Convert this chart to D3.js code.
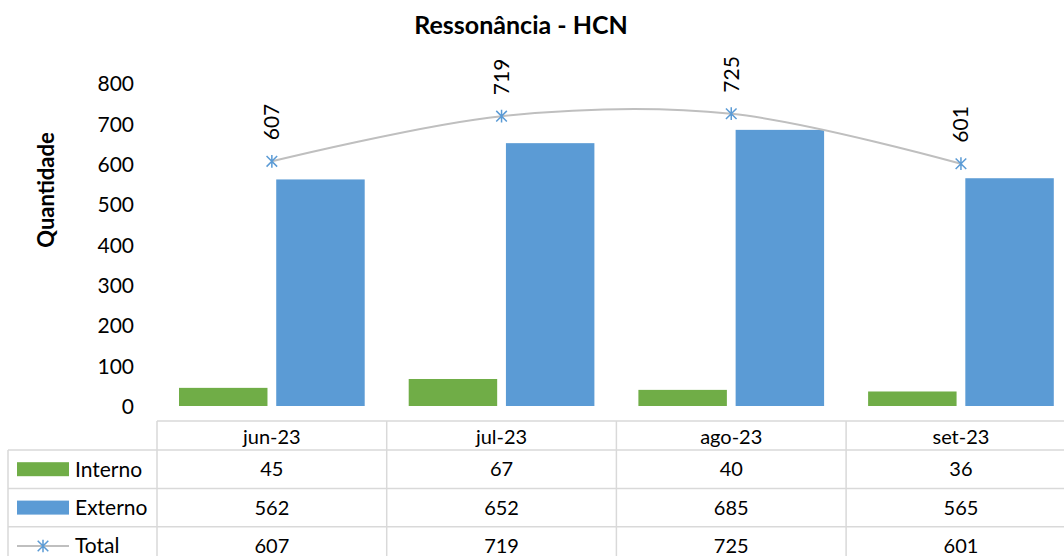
<!DOCTYPE html>
<html><head><meta charset="utf-8">
<script src="https://cdn.jsdelivr.net/npm/d3@7"></script>
<style>
html,body{margin:0;padding:0;background:#fff;overflow:hidden}
svg{display:block;font-family:Lato, "Open Sans", sans-serif}
</style></head>
<body>
<svg id="chart" width="1064" height="556"></svg>
<script>
const categories = ["jun-23", "jul-23", "ago-23", "set-23"];
const seriesNames = ["Interno", "Externo"];
const interno = [45, 67, 40, 36];
const externo = [562, 652, 685, 565];
const total = [607, 719, 725, 601];
const yTicks = [0, 100, 200, 300, 400, 500, 600, 700, 800];
const title = "Ressonância - HCN";
const yTitle = "Quantidade";

const colors = {Interno: "#70ad47", Externo: "#5b9bd5", Total: "#5b9bd5", line: "#bfbfbf", grid: "#d9d9d9"};
const svg = d3.select("#chart");

const plotLeft = 157, catW = 229.7;
const x0 = d3.scaleBand().domain(categories).range([plotLeft, plotLeft + catW * categories.length]).padding(0);
const x1 = d3.scaleBand().domain(seriesNames).range([22, x0.bandwidth() - 22]).paddingInner(0.09).paddingOuter(0);
const y = d3.scaleLinear().domain([0, 800]).range([406, 83.5]);

// title
svg.append("text").attr("x", 521).attr("y", 34).attr("text-anchor", "middle")
  .attr("font-size", 25).attr("font-weight", "bold").attr("fill", "#000").text(title);

// y axis title
svg.append("text").attr("transform", "translate(54,190) rotate(-90)").attr("text-anchor", "middle")
  .attr("font-size", 22).attr("font-weight", "bold").attr("fill", "#000").text(yTitle);

// y axis
const yAxis = d3.axisLeft(y).tickValues(yTicks).tickSize(0).tickPadding(0);
const gy = svg.append("g").attr("transform", "translate(134,0)").call(yAxis);
gy.select(".domain").remove();
gy.selectAll("text").attr("font-size", 21).attr("font-family", "Lato, 'Open Sans', sans-serif").attr("fill", "#000").attr("dy", "0.35em");

// bars
const rows = categories.map((c, i) => ({cat: c, Interno: interno[i], Externo: externo[i]}));
const groups = svg.append("g").selectAll("g").data(rows).join("g")
  .attr("transform", d => `translate(${x0(d.cat)},0)`);
groups.selectAll("rect").data(d => seriesNames.map(s => ({s, v: d[s]}))).join("rect")
  .attr("x", d => x1(d.s)).attr("width", x1.bandwidth())
  .attr("y", d => y(d.v)).attr("height", d => y(0) - y(d.v))
  .attr("fill", d => colors[d.s]);

// total line
const cx = c => x0(c) + x0.bandwidth() / 2;
const pts = categories.map((c, i) => [cx(c), y(total[i])]);
svg.append("path").attr("d", d3.line().curve(d3.curveCatmullRom.alpha(0.5))(pts))
  .attr("fill", "none").attr("stroke", colors.line).attr("stroke-width", 2);

function star(g, x, yy, r) {
  const p = `M${x - r},${yy - r}L${x + r},${yy + r}M${x - r},${yy + r}L${x + r},${yy - r}M${x},${yy - r * 1.2}L${x},${yy + r * 1.2}`;
  g.append("path").attr("d", p).attr("stroke", colors.Total).attr("stroke-width", 1.5).attr("fill", "none");
}
const mk = svg.append("g");
pts.forEach(p => star(mk, p[0], p[1], 5.3));

// data labels
svg.append("g").selectAll("text").data(categories).join("text")
  .attr("transform", (c, i) => `translate(${cx(c)},${y(total[i]) - 21}) rotate(-90)`)
  .attr("dy", "0.35em").attr("font-size", 21).attr("fill", "#000")
  .text((c, i) => total[i]);

// data table
const tableTop = 421, headerH = 29, rowH = 38.4, tableLeft = 8;
const tableRight = x0.range()[1];
const tg = svg.append("g");
const lineAttrs = s => s.attr("stroke", colors.grid).attr("stroke-width", 1.5);
const rowY = [tableTop, tableTop + headerH, tableTop + headerH + rowH, tableTop + headerH + 2 * rowH, tableTop + headerH + 3 * rowH];
lineAttrs(tg.append("line").attr("x1", plotLeft).attr("x2", tableRight).attr("y1", rowY[0]).attr("y2", rowY[0]));
for (let k = 1; k < rowY.length; k++) {
  lineAttrs(tg.append("line").attr("x1", tableLeft).attr("x2", tableRight).attr("y1", rowY[k]).attr("y2", rowY[k]));
}
lineAttrs(tg.append("line").attr("x1", tableLeft).attr("x2", tableLeft).attr("y1", rowY[1]).attr("y2", 560));
x0.domain().forEach(c => {
  lineAttrs(tg.append("line").attr("x1", x0(c)).attr("x2", x0(c)).attr("y1", rowY[0]).attr("y2", 560));
});
lineAttrs(tg.append("line").attr("x1", tableRight).attr("x2", tableRight).attr("y1", rowY[0]).attr("y2", 560));

tg.selectAll("text.h").data(categories).join("text").attr("class", "h")
  .attr("x", c => cx(c)).attr("y", rowY[0] + headerH / 2 + 1).attr("dy", "0.35em")
  .attr("text-anchor", "middle").attr("font-size", 20).attr("fill", "#000").text(c => c);

const tableSeries = [
  {name: "Interno", vals: interno},
  {name: "Externo", vals: externo},
  {name: "Total", vals: total}
];
tableSeries.forEach((s, r) => {
  const top = rowY[r + 1], mid = top + rowH / 2;
  tg.selectAll(null).data(s.vals).join("text")
    .attr("x", (v, i) => cx(categories[i])).attr("y", mid).attr("dy", "0.35em")
    .attr("text-anchor", "middle").attr("font-size", 20).attr("fill", "#000").text(v => v);
  if (s.name === "Total") {
    tg.append("line").attr("x1", 17).attr("x2", 69).attr("y1", mid).attr("y2", mid)
      .attr("stroke", colors.line).attr("stroke-width", 2);
    star(tg, 43, mid, 5.3);
  } else {
    tg.append("rect").attr("x", 17).attr("y", mid - 7).attr("width", 52).attr("height", 14).attr("fill", colors[s.name]);
  }
  tg.append("text").attr("x", 75).attr("y", mid).attr("dy", "0.35em").attr("font-size", 21)
    .attr("fill", "#000").text(s.name);
});
</script>
</body></html>
